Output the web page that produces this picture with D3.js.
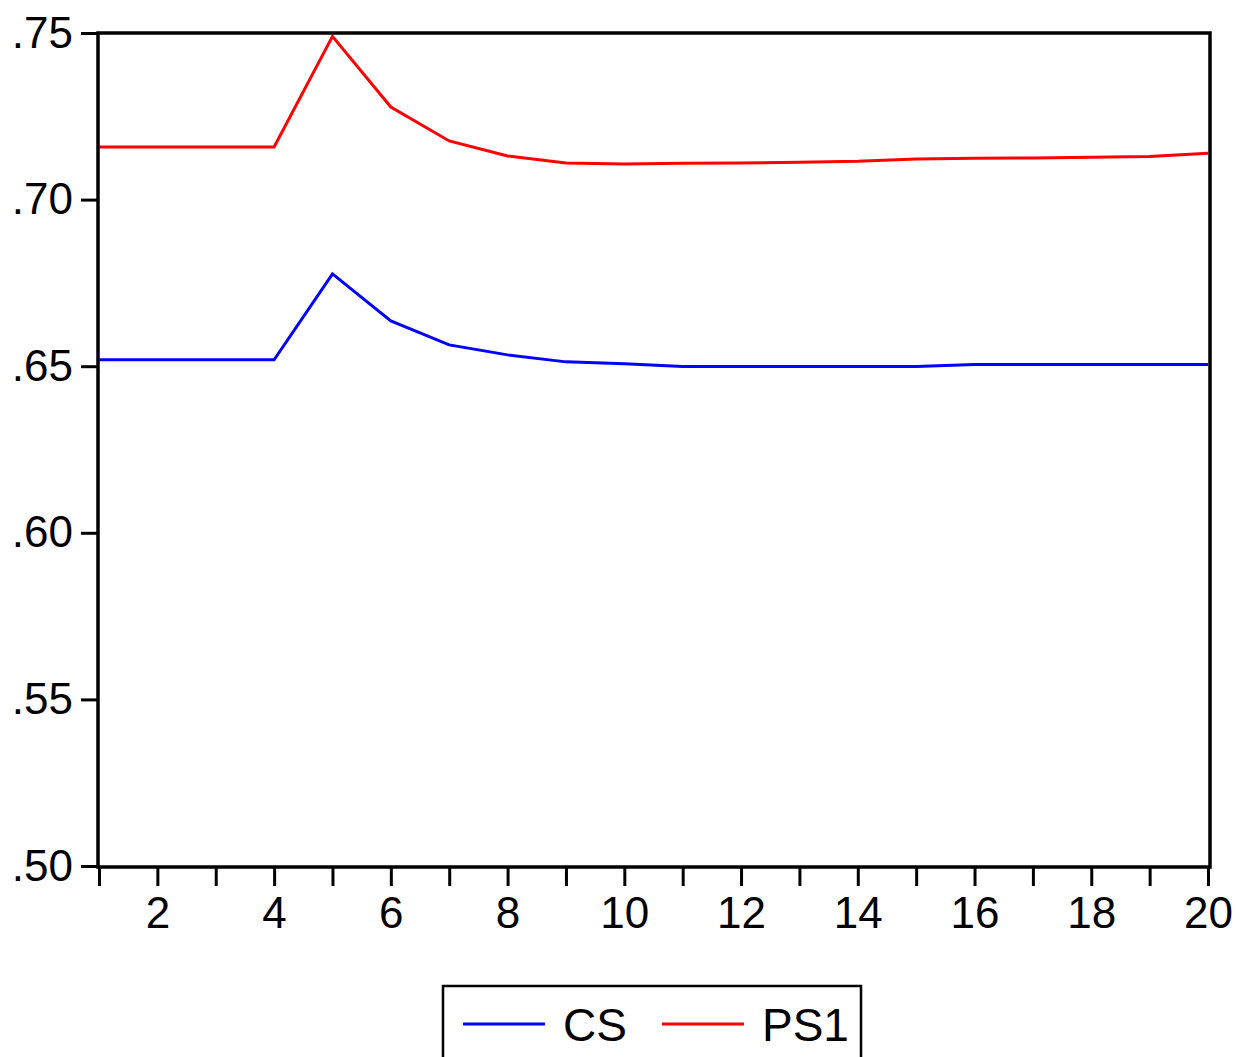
<!DOCTYPE html>
<html>
<head>
<meta charset="utf-8">
<script src="https://cdn.jsdelivr.net/npm/d3@7"></script>
<style>
  body { margin: 0; background: #fff; }
  svg { display: block; font-family: "Liberation Sans", Arial, sans-serif; }
</style>
</head>
<body>
<svg id="chart" width="1243" height="1057"></svg>
<script>
// periodos 1..20
const periodos = d3.range(1, 21);
const cs  = [0.6519, 0.6519, 0.6519, 0.6519, 0.6777, 0.6636, 0.6564, 0.6534, 0.6513, 0.6507,
             0.6499, 0.6499, 0.6499, 0.6499, 0.6499, 0.6505, 0.6505, 0.6505, 0.6505, 0.6505];
const ps1 = [0.7158, 0.7158, 0.7158, 0.7158, 0.7490, 0.7278, 0.7176, 0.7131, 0.7110, 0.7107,
             0.7109, 0.7110, 0.7112, 0.7115, 0.7122, 0.7124, 0.7125, 0.7127, 0.7129, 0.7139];
const yTicks = [0.50, 0.55, 0.60, 0.65, 0.70, 0.75];
const xTicks = [2, 4, 6, 8, 10, 12, 14, 16, 18, 20];
const series = [
  { nome: "CS", valores: cs, cor: "#0000ff" },
  { nome: "PS1", valores: ps1, cor: "#ff0000" }
];

const svg = d3.select("#chart");
const L = 98, R = 1210, T = 33, B = 867;

const x = d3.scaleLinear().domain([1, 20]).range([L + 1, R - 2]);
const y = d3.scaleLinear().domain([0.50, 0.75]).range([B - 1, T]);

// eixos
const yAxis = svg.append("g")
  .attr("transform", `translate(${L},0)`)
  .call(d3.axisLeft(y).tickValues(yTicks).tickSize(17).tickPadding(8)
    .tickFormat(d => d3.format(".2f")(d).replace(/^0/, "")));
yAxis.select(".domain").remove();
yAxis.selectAll("line").attr("stroke", "#000").attr("stroke-width", 3);
yAxis.selectAll("text").attr("font-size", 44).attr("fill", "#000")
  .attr("font-family", "Liberation Sans, Arial, sans-serif");

const xAxis = svg.append("g")
  .attr("transform", `translate(0,${B})`)
  .call(d3.axisBottom(x).tickValues(periodos).tickSize(19).tickPadding(11)
    .tickFormat(d => xTicks.includes(d) ? d : ""));
xAxis.select(".domain").remove();
xAxis.selectAll("line").attr("stroke", "#000").attr("stroke-width", 3);
xAxis.selectAll("text").attr("font-size", 44).attr("fill", "#000")
  .attr("font-family", "Liberation Sans, Arial, sans-serif");

// linhas
const line = d3.line().x((d, i) => x(periodos[i])).y(d => y(d));
series.forEach(s => {
  svg.append("path")
    .attr("d", line(s.valores))
    .attr("fill", "none")
    .attr("stroke", s.cor)
    .attr("stroke-width", 3)
    .attr("stroke-linejoin", "miter");
});

// moldura
svg.append("rect")
  .attr("x", L).attr("y", T)
  .attr("width", R - L).attr("height", B - T)
  .attr("fill", "none").attr("stroke", "#000").attr("stroke-width", 3.5);

// legenda
const leg = svg.append("g");
leg.append("rect")
  .attr("x", 443).attr("y", 986).attr("width", 418).attr("height", 90)
  .attr("fill", "#fff").attr("stroke", "#000").attr("stroke-width", 2.5);
const legX = [463, 662];
series.forEach((s, i) => {
  leg.append("line")
    .attr("x1", legX[i]).attr("x2", legX[i] + 82)
    .attr("y1", 1024).attr("y2", 1024)
    .attr("stroke", s.cor).attr("stroke-width", 3);
  leg.append("text")
    .attr("x", legX[i] + 100).attr("y", 1041)
    .attr("font-size", 46).attr("fill", "#000")
    .text(s.nome);
});
</script>
</body>
</html>
